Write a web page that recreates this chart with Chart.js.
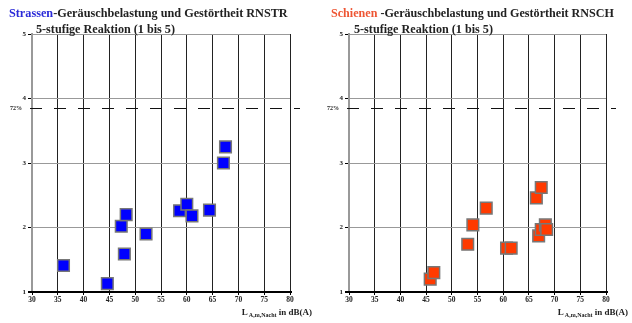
<!DOCTYPE html>
<html><head><meta charset="utf-8">
<script src="https://cdn.jsdelivr.net/npm/chart.js@4"></script>
<style>
html,body{margin:0;padding:0;background:#fff;}
.wrap{position:absolute;top:0;width:316px;height:323px;}
</style></head>
<body>
<div class="wrap" style="left:0"><canvas id="c1" width="316" height="323"></canvas></div>
<div class="wrap" style="left:316px"><canvas id="c2" width="316" height="323"></canvas></div>
<script>
const xTicks = [30,35,40,45,50,55,60,65,70,75,80];
const yTicks = [1,2,3,4,5];
const refLevel = 3.85;
const refLabel = '72%';

const strassenX = [36.1,44.6,47.3,48.25,47.9,52.1,58.6,60.0,61.0,64.4,67.1,67.5];
const strassenY = [1.41,1.13,2.02,2.20,1.59,1.90,2.26,2.36,2.18,2.27,3.00,3.25];

const schienenX = [45.8,46.5,53.1,54.1,56.7,60.65,61.55,66.45,67.4,66.9,67.4,68.2,68.45];
const schienenY = [1.20,1.30,1.74,2.04,2.30,1.68,1.68,2.46,2.62,1.87,1.97,2.04,1.97];

function pts(xs, ys){ return xs.map((x,i)=>({x:x,y:ys[i]})); }

const SERIF = '"Liberation Serif", "DejaVu Serif", serif';

function makeChart(id, xs, ys, fill, word, wordColor, rest, line2, t1x, t1w, t2x, t2w, left){
  const decor = {
    id:'decor',
    afterDraw(chart){
      const ctx = chart.ctx;
      const xs_ = chart.scales.x, ys_ = chart.scales.y;
      ctx.save();
      // dashed reference line
      const yp = Math.round(ys_.getPixelForValue(refLevel)) + 0.5;
      ctx.strokeStyle = '#111';
      ctx.lineWidth = 1;
      ctx.setLineDash([12,12]);
      ctx.beginPath();
      ctx.moveTo(xs_.left-2, yp); ctx.lineTo(xs_.right+10, yp); ctx.stroke();
      ctx.setLineDash([]);
      ctx.fillStyle = '#222';
      ctx.font = 'bold 6px ' + SERIF;
      ctx.textAlign = 'right'; ctx.textBaseline = 'middle';
      ctx.fillText(refLabel, xs_.left-10, yp);
      // x axis line
      ctx.strokeStyle = '#000'; ctx.lineWidth = 2;
      ctx.beginPath(); ctx.moveTo(xs_.left-4, ys_.bottom); ctx.lineTo(xs_.right+2, ys_.bottom); ctx.stroke();
      // titles
      ctx.textAlign = 'left'; ctx.textBaseline = 'middle';
      let fs = 12;
      ctx.font = 'bold '+fs+'px ' + SERIF;
      let w = ctx.measureText(word+rest).width;
      fs = fs * t1w / w;
      ctx.font = 'bold '+fs.toFixed(2)+'px ' + SERIF;
      ctx.fillStyle = wordColor;
      ctx.fillText(word, t1x, 14);
      const ww = ctx.measureText(word).width;
      ctx.fillStyle = '#222';
      ctx.fillText(rest, t1x+ww, 14);
      let fs2 = 12;
      ctx.font = 'bold '+fs2+'px ' + SERIF;
      w = ctx.measureText(line2).width;
      fs2 = fs2 * t2w / w;
      ctx.font = 'bold '+fs2.toFixed(2)+'px ' + SERIF;
      ctx.fillText(line2, t2x, 30);
      // x axis title
      ctx.textBaseline = 'alphabetic';
      ctx.textAlign = 'right';
      const endX = xs_.right + 22;
      ctx.font = 'bold 9px ' + SERIF;
      const tail = ' in dB(A)';
      const tw = ctx.measureText(tail).width;
      ctx.fillText(tail, endX, 315);
      ctx.font = 'bold 6px ' + SERIF;
      const sub = 'A,m,Nacht';
      const sw = ctx.measureText(sub).width;
      ctx.fillText(sub, endX - tw, 317);
      ctx.font = 'bold 9px ' + SERIF;
      ctx.fillText('L', endX - tw - sw - 1, 315);
      ctx.restore();
    }
  };
  return new Chart(document.getElementById(id), {
    type:'scatter',
    data:{datasets:[{
      data: pts(xs, ys),
      pointStyle:'rect',
      pointRadius:8.2,
      pointHoverRadius:8.2,
      backgroundColor: fill,
      borderColor:'#777',
      borderWidth:1.5
    }]},
    options:{
      responsive:false,
      animation:false,
      events:[],
      layout:{padding:{top:34, right:26, bottom:19, left:0}},
      plugins:{legend:{display:false}, tooltip:{enabled:false}, title:{display:false}},
      scales:{
        x:{
          type:'linear', min:30, max:80,
          afterBuildTicks(s){ s.ticks = xTicks.map(v=>({value:v})); },
          grid:{color:'#222', lineWidth:1, drawTicks:true, tickLength:3, tickColor:'#000'},
          border:{display:false},
          ticks:{color:'#222', font:{family:SERIF, size:7.5, weight:'bold'}, padding:1, maxRotation:0, autoSkip:false},
          afterFit(s){ s.height = 12; }
        },
        y:{
          type:'linear', min:1, max:5,
          afterBuildTicks(s){ s.ticks = yTicks.map(v=>({value:v})); },
          grid:{color:'#999', lineWidth:1, drawTicks:true, tickLength:4, tickColor:'#000'},
          border:{display:true, color:'#999', width:2},
          ticks:{color:'#222', font:{family:SERIF, size:7, weight:'bold'}, padding:2},
          afterFit(s){ s.width = left; }
        }
      }
    },
    plugins:[decor]
  });
}

makeChart('c1', strassenX, strassenY, '#0000ff', 'Strassen', '#2a2ad8', '-Geräuschbelastung und Gestörtheit RNSTR', '5-stufige Reaktion (1 bis 5)', 9, 279, 36, 139, 32);
makeChart('c2', schienenX, schienenY, '#ff3a00', 'Schienen', '#ee5533', ' -Geräuschbelastung und Gestörtheit RNSCH', '5-stufige Reaktion (1 bis 5)', 15, 283, 38, 139, 33);
</script>
</body></html>
